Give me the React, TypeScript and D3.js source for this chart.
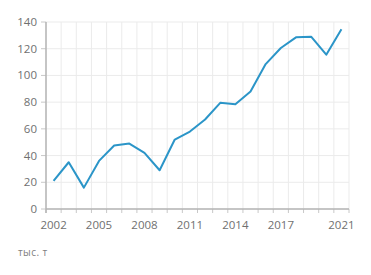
import React from "react";
import * as d3 from "d3";

const years = [2002,2003,2004,2005,2006,2007,2008,2009,2010,2011,2012,2013,2014,2015,2016,2017,2018,2019,2020,2021];
const values = [21,35,16,36,47.5,49,42,29,52,58,67,79.5,78.5,88,108.5,120.5,128.5,129,115.5,134.5];
const yTicks = [0,20,40,60,80,100,120,140];
const xLabels = [2002,2005,2008,2011,2014,2017,2021];
const unitLabel = "тыс. т";

export default function App() {
  const W = 371, H = 275;
  const left = 46, right = 349, top = 22, bottom = 209;
  const x = d3.scaleBand<number>().domain(years).range([left, right]).padding(0);
  const y = d3.scaleLinear().domain([0, 140]).range([bottom, top]);
  const cx = (yr: number) => (x(yr) as number) + x.bandwidth() / 2;
  const line = d3.line<number>().x((_, i) => cx(years[i])).y(d => y(d));
  const edges = years.map(yr => x(yr) as number).concat([right]);
  const font = "'Open Sans', sans-serif";
  return (
    <svg width={W} height={H} style={{ position: "absolute", left: 0, top: 0, background: "#fff" }}>
      {yTicks.map(t => (
        <line key={"h" + t} x1={left} x2={right} y1={y(t)} y2={y(t)} stroke="#ebebeb" strokeWidth={1} />
      ))}
      {edges.map((e, i) => (
        <line key={"v" + i} x1={e} x2={e} y1={top} y2={bottom} stroke="#ebebeb" strokeWidth={1} />
      ))}
      {edges.map((e, i) => (
        <line key={"t" + i} x1={e} x2={e} y1={bottom} y2={bottom + 4} stroke="#c8c8c8" strokeWidth={1} />
      ))}
      {yTicks.map(t => (
        <line key={"yt" + t} x1={left - 5} x2={left} y1={y(t)} y2={y(t)} stroke="#c8c8c8" strokeWidth={1} />
      ))}
      <line x1={left} x2={left} y1={top} y2={bottom + 4} stroke="#b4b4b4" strokeWidth={1.5} />
      <line x1={left} x2={right} y1={bottom} y2={bottom} stroke="#b4b4b4" strokeWidth={1.5} />
      {yTicks.map(t => (
        <text key={"yl" + t} x={37} y={y(t)} dy="0.35em" textAnchor="end" fontFamily={font} fontSize={11.5} fill="#707070">{t}</text>
      ))}
      {xLabels.map(l => (
        <text key={"xl" + l} x={cx(l)} y={229} textAnchor="middle" fontFamily={font} fontSize={11.5} fill="#707070">{l}</text>
      ))}
      <path d={line(values) as string} fill="none" stroke="#2b95c8" strokeWidth={2} strokeLinejoin="round" />
      <text x={18} y={256} fontFamily={font} fontSize={10} letterSpacing={0.4} fill="#808080">{unitLabel}</text>
    </svg>
  );
}
